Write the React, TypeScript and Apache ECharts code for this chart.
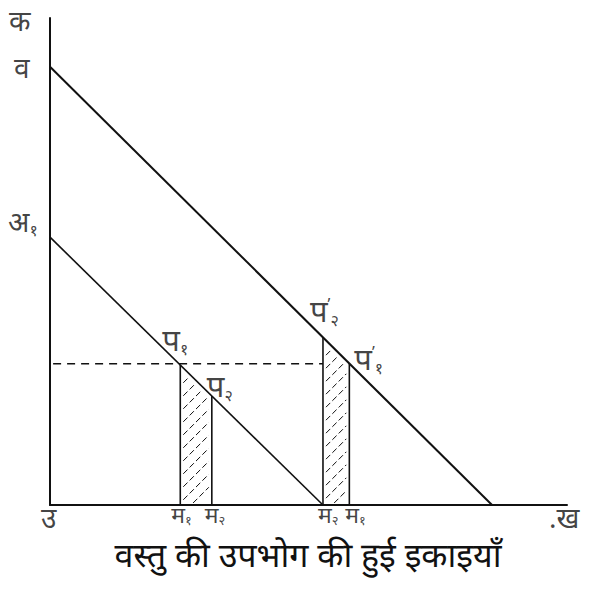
import React, { useEffect, useRef } from "react";
import * as echarts from "echarts";

// ---- data (chart units: x 0..100, y 0..100) ----
const upperLine: number[][] = [[0, 90], [85.5, 0]]; // व -> x-axis
const lowerLine: number[][] = [[0, 55], [52.8, 0]]; // अ१ -> x-axis
const priceLevel = 29; // dashed horizontal
const dashedEnd = 52.8;
const leftStrip = [25.2, 31.3]; // म१, म२ under lower line
const rightStrip = [52.8, 57.9]; // म२, म१ under upper line

const pointNames = ["क", "व", "अ", "प", "प", "प", "प"];
const pointSubs = ["", "", "१", "१", "२", "२", "१"];
const pointPrimes = [false, false, false, false, false, true, true];
const footNames = ["उ", "म", "म", "म", "म", ".ख"];
const footSubs = ["", "१", "२", "२", "१", ""];
const xTitle = "वस्तु की उपभोग की हुई इकाइयाँ";

const yOn = (line: number[][], x: number) => line[0][1] * (1 - x / line[1][0]);

const FONT = "'Noto Sans Devanagari', 'Lohit Devanagari', 'Noto Sans', 'DejaVu Sans', sans-serif";

export default function App() {
  const ref = useRef<HTMLDivElement>(null);
  useEffect(() => {
    if (!ref.current) return;
    const chart = echarts.init(ref.current, undefined, { renderer: "svg" });

    const black = "#111";
    const pointXY: number[][] = [
      [0, 100],
      [0, upperLine[0][1]],
      [0, lowerLine[0][1]],
      [leftStrip[0], priceLevel],
      [leftStrip[1], yOn(lowerLine, leftStrip[1])],
      [rightStrip[0], yOn(upperLine, rightStrip[0])],
      [rightStrip[1], priceLevel],
    ];
    const pointOffsets = [
      [-41, 6],
      [-36, 4],
      [-42, -12],
      [-18, -20],
      [-5, -6],
      [-13, -23],
      [5, -1],
    ];
    const footXY: number[][] = [
      [0, 0],
      [leftStrip[0], 0],
      [leftStrip[1], 0],
      [rightStrip[0], 0],
      [rightStrip[1], 0],
      [100, 0],
    ];
    const footOffsets = [[-9, 16], [-9, 12], [-7, 12], [-5, 12], [-4, 12], [-18, 16]];

    const rich = {
      b: { fontSize: 28, fontFamily: FONT, color: black, verticalAlign: "middle" },
      pb: { fontSize: 31, fontFamily: FONT, color: black, verticalAlign: "middle" },
      s: { fontSize: 16, fontFamily: FONT, color: black, verticalAlign: "bottom", padding: [14, 0, 0, 0] },
      p: { fontSize: 16, fontFamily: FONT, color: black, verticalAlign: "top", padding: [0, 0, 16, 0] },
      fb: { fontSize: 23, fontFamily: FONT, color: black, lineHeight: 22 },
      fs: { fontSize: 13, fontFamily: FONT, color: black, verticalAlign: "bottom", padding: [6, 0, 0, 0], lineHeight: 14 },
    } as any;

    const vLines = [
      [leftStrip[0], Math.min(priceLevel, yOn(lowerLine, leftStrip[0]))],
      [leftStrip[1], yOn(lowerLine, leftStrip[1])],
      [rightStrip[0], yOn(upperLine, rightStrip[0])],
      [rightStrip[1], priceLevel],
    ];

    const hatchItem = (params: any, api: any) => {
      const xa = api.value(0);
      const xb = api.value(1);
      const which = api.value(2);
      const line = which === 0 ? lowerLine : upperLine;
      const pa = api.coord([xa, yOn(line, xa)]);
      const pb = api.coord([xb, yOn(line, xb)]);
      const base = api.coord([xa, 0])[1];
      const ax = pa[0];
      const bx = pb[0];
      const k = (pb[1] - pa[1]) / (bx - ax);
      const children: any[] = [];
      const step = 13;
      const cMin = ax + pa[1];
      const cMax = bx + base;
      for (let c = cMin + step * 0.6; c < cMax; c += step) {
        const lo = Math.max(ax + 3, c - base + 2);
        const hi = Math.min(bx - 3, (c - pa[1] + k * ax) / (1 + k) - 2);
        if (hi - lo < 3) continue;
        children.push({
          type: "line",
          shape: { x1: lo, y1: c - lo, x2: hi, y2: c - hi },
          style: { stroke: black, lineWidth: 1, lineDash: [6, 3] },
        });
      }
      return { type: "group", children };
    };

    chart.setOption({
      animation: false,
      backgroundColor: "#fff",
      grid: { left: 50, right: 22, top: 18, bottom: 86 },
      title: {
        text: xTitle,
        left: 303,
        textAlign: "center",
        top: 534,
        textStyle: { fontSize: 34, fontWeight: "normal", fontFamily: FONT, color: black, lineHeight: 40 },
      },
      xAxis: {
        type: "value",
        min: 0,
        max: 100,
        axisLine: { show: true, onZero: false, lineStyle: { color: black, width: 2 } },
        axisTick: { show: false },
        axisLabel: { show: false },
        splitLine: { show: false },
      },
      yAxis: {
        type: "value",
        min: 0,
        max: 100,
        axisLine: { show: true, onZero: false, lineStyle: { color: black, width: 2 } },
        axisTick: { show: false },
        axisLabel: { show: false },
        splitLine: { show: false },
      },
      series: [
        {
          type: "line",
          data: upperLine,
          symbol: "none",
          lineStyle: { color: black, width: 2 },
        },
        {
          type: "line",
          data: lowerLine,
          symbol: "none",
          lineStyle: { color: black, width: 1.6 },
        },
        {
          type: "line",
          data: [[0.6, priceLevel], [dashedEnd, priceLevel]],
          symbol: "none",
          lineStyle: { color: black, width: 1.3, type: [8, 6] },
        },
        ...vLines.map((v) => ({
          type: "line",
          data: [[v[0], 0], [v[0], v[1]]],
          symbol: "none",
          lineStyle: { color: black, width: 1.6 },
        })),
        {
          type: "custom",
          renderItem: hatchItem,
          data: [
            [leftStrip[0], leftStrip[1], 0],
            [rightStrip[0], rightStrip[1], 1],
          ],
          z: 1,
        },
        {
          type: "scatter",
          symbolSize: 0,
          data: pointXY.map((xy, i) => ({
            value: xy,
            label: {
              show: true,
              position: "right",
              distance: 0,
              offset: pointOffsets[i],
              rich,
              formatter:
                "{" + (i >= 3 ? "pb" : "b") + "|" + pointNames[i] + "}" +
                (pointPrimes[i] ? "{p|ʹ}" : "") +
                (pointSubs[i] ? "{s|" + pointSubs[i] + "}" : ""),
            },
          })),
        },
        {
          type: "scatter",
          symbolSize: 0,
          data: footXY.map((xy, i) => ({
            value: xy,
            label: {
              show: true,
              position: "right",
              distance: 0,
              offset: footOffsets[i],
              rich,
              formatter:
                "{" + (i === 0 || i === 5 ? "b" : "fb") + "|" + footNames[i] + "}" +
                (footSubs[i] ? "{fs|" + footSubs[i] + "}" : ""),
            },
          })),
        },
      ],
    });
    return () => chart.dispose();
  }, []);
  return (
    <div
      ref={ref}
      style={{ position: "fixed", left: 0, top: 0, width: 589, height: 591, background: "#fff" }}
    />
  );
}
